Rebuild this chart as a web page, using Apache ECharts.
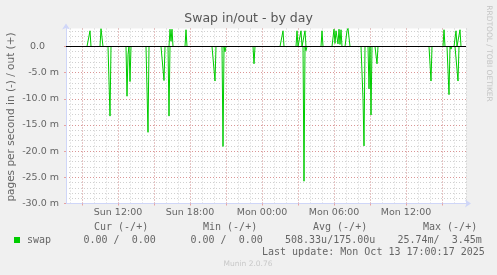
<!DOCTYPE html>
<html><head><meta charset="utf-8">
<script src="https://cdn.jsdelivr.net/npm/echarts@6/dist/echarts.min.js"></script>
<style>html,body{margin:0;padding:0;background:#f0f0f0}#c{width:497px;height:275px}</style>
</head><body><div id="c"></div>
<script>
// 5-minute slots from Sun 07:40 to Mon 17:00
const categories = [];
for (let m = 7 * 60 + 40; m <= 41 * 60; m += 5) {
  const d = m < 1440 ? 'Sun' : 'Mon';
  const mm = m % 1440;
  categories.push(d + ' ' + String(Math.floor(mm / 60)).padStart(2, '0') + ':' + String(mm % 60).padStart(2, '0'));
}

// swap out (+), pages/s in milli-units; slots not listed are 0
const swapOut = [
  ['Sun 09:40', 3.0], ['Sun 10:35', 3.4], ['Sun 10:40', 3.3],
  ['Sun 16:20', 3.3], ['Sun 16:25', 1.0], ['Sun 16:30', 3.3],
  ['Sun 17:40', 3.2],
  ['Mon 01:45', 3.0], ['Mon 02:55', 3.0], ['Mon 03:15', 3.0], ['Mon 03:35', 3.0],
  ['Mon 05:00', 3.0],
  ['Mon 06:00', 3.3], ['Mon 06:05', 0.6], ['Mon 06:10', 3.0], ['Mon 06:15', 3.2],
  ['Mon 06:20', 0.5], ['Mon 06:25', 3.3], ['Mon 06:30', 0.4], ['Mon 06:35', 3.2],
  ['Mon 07:05', 3.0], ['Mon 07:10', 3.45], ['Mon 07:15', 3.3],
  ['Mon 15:10', 3.2], ['Mon 16:10', 3.0], ['Mon 16:30', 3.2]
];
// swap in (-)
const swapIn = [
  ['Sun 11:20', -13.3], ['Sun 12:45', -9.5], ['Sun 12:50', -1.5], ['Sun 13:00', -6.7],
  ['Sun 14:30', -16.4], ['Sun 15:50', -6.5], ['Sun 16:15', -13.3],
  ['Sun 20:05', -6.6], ['Sun 20:45', -19.1], ['Sun 20:55', -1.0],
  ['Sun 23:20', -3.3],
  ['Mon 03:30', -25.74], ['Mon 03:40', -0.8],
  ['Mon 08:25', -10.0], ['Mon 08:30', -19.0], ['Mon 08:55', -8.1], ['Mon 09:05', -13.1],
  ['Mon 09:35', -3.3],
  ['Mon 14:05', -6.6], ['Mon 15:35', -9.2], ['Mon 15:45', -0.5], ['Mon 16:20', -6.6]
];

const yTicks = [-30, -25, -20, -15, -10, -5, 0];
const xTickLabels = ['Sun 12:00', 'Sun 18:00', 'Mon 00:00', 'Mon 06:00', 'Mon 12:00'];
const legendHeads = ['Cur (-/+)', 'Min (-/+)', 'Avg (-/+)', 'Max (-/+)'];
const legendValues = ['0.00 /  0.00', '0.00 /  0.00', '508.33u/175.00u', '25.74m/  3.45m'];
const lastUpdate = 'Last update: Mon Oct 13 17:00:17 2025';

const outMap = Object.fromEntries(swapOut);
const inMap = Object.fromEntries(swapIn);
const outData = categories.map(c => (c in outMap ? outMap[c] : 0));
const inData = categories.map(c => (c in inMap ? inMap[c] : 0));

const GRID = 'rgba(150,150,150,0.45)';
const MGRID = 'rgba(225,110,110,0.6)';
const AXIS = '#cfd6f8';
const FONT = '#666666';
const GREEN = '#00cc00';
const isHour = v => v.slice(-2) === '00';
const hourOf = v => parseInt(v.slice(4, 6), 10);

const headX = [94, 203, 313, 423];
const valX = [83.5, 190.5, 285, 397.5];
const mono = '10px "DejaVu Sans Mono"';

const graphics = [
  { type: 'text', x: 248.5, y: 18.8, style: { text: 'Swap in/out - by day', font: '12.5px "DejaVu Sans"', fill: '#555', align: 'center', verticalAlign: 'middle' } },
  { type: 'text', x: 11.5, y: 117, rotation: Math.PI / 2, style: { text: 'pages per second in (-) / out (+)', font: '10.5px "DejaVu Sans"', fill: FONT, align: 'center', verticalAlign: 'middle' } },
  { type: 'text', x: 488.5, y: 53.5, rotation: -Math.PI / 2, style: { text: 'RRDTOOL / TOBI OETIKER', font: '7.5px "DejaVu Sans"', fill: '#c4c4c4', align: 'center', verticalAlign: 'middle' } },
  { type: 'text', x: 248, y: 264, style: { text: 'Munin 2.0.76', font: '7.5px "DejaVu Sans"', fill: '#c8c8c8', align: 'center', verticalAlign: 'middle' } },
  { type: 'rect', shape: { x: 14, y: 237, width: 6, height: 6 }, style: { fill: GREEN } },
  { type: 'text', x: 27, y: 240, style: { text: 'swap', font: mono, fill: FONT, align: 'left', verticalAlign: 'middle' } },
  { type: 'text', x: 262, y: 252, style: { text: lastUpdate, font: mono, fill: FONT, align: 'left', verticalAlign: 'middle' } }
];
legendHeads.forEach((t, i) => graphics.push({ type: 'text', x: headX[i], y: 227.3, style: { text: t, font: mono, fill: FONT, align: 'left', verticalAlign: 'middle' } }));
legendValues.forEach((t, i) => graphics.push({ type: 'text', x: valX[i], y: 240, style: { text: t, font: mono, fill: FONT, align: 'left', verticalAlign: 'middle' } }));

const chart = echarts.init(document.getElementById('c'), null, { renderer: 'canvas' });
chart.setOption({
  animation: false,
  backgroundColor: '#f0f0f0',
  textStyle: { fontFamily: 'DejaVu Sans' },
  grid: { left: 66, top: 28.5, width: 400, height: 175, show: true, backgroundColor: '#ffffff', borderWidth: 0 },
  xAxis: [
    {
      type: 'category', data: categories, boundaryGap: false, position: 'bottom', z: 1,
      axisLine: { show: true, onZero: false, lineStyle: { color: AXIS, width: 1 }, symbol: ['none', 'arrow'], symbolSize: [6, 6], symbolOffset: [0, 5] },
      axisTick: { show: true, length: 2, interval: (i, v) => isHour(v) && hourOf(v) % 3 === 0, lineStyle: { color: MGRID } },
      axisLabel: { interval: (i, v) => xTickLabels.includes(v), color: FONT, fontSize: 9.5, fontFamily: 'DejaVu Sans', margin: 4 },
      splitLine: { show: true, interval: (i, v) => isHour(v) && hourOf(v) % 3 === 0, lineStyle: { color: MGRID, type: [1, 2], width: 1 } }
    },
    {
      type: 'category', data: categories, boundaryGap: false, position: 'bottom', z: 0,
      axisLine: { show: false, onZero: false }, axisTick: { show: false }, axisLabel: { show: false },
      splitLine: { show: true, interval: (i, v) => isHour(v), lineStyle: { color: GRID, type: [1, 2], width: 1 } }
    }
  ],
  yAxis: [
    {
      type: 'value', min: -30, max: 3.44, interval: 5, z: 1,
      axisLine: { show: true, onZero: false, lineStyle: { color: AXIS, width: 1 }, symbol: ['none', 'arrow'], symbolSize: [6, 6], symbolOffset: [0, 5] },
      axisTick: { show: true, length: 2, lineStyle: { color: MGRID } },
      axisLabel: {
        color: FONT, fontSize: 9.5, fontFamily: 'DejaVu Sans', margin: 7, showMaxLabel: false,
        formatter: v => (v === 0 ? '{z|0.0}' : (yTicks.includes(v) ? v.toFixed(1) + ' m' : '')),
        rich: { z: { color: FONT, fontSize: 9.5, fontFamily: 'DejaVu Sans', padding: [0, 14, 0, 0] } }
      },
      splitLine: { show: true, showMaxLine: false, showMinLine: false, lineStyle: { color: MGRID, type: [1, 2], width: 1 } }
    },
    {
      type: 'value', min: -30, max: 3.44, interval: 1, z: 0,
      axisLine: { show: false }, axisTick: { show: false }, axisLabel: { show: false },
      splitLine: { show: true, showMaxLine: false, showMinLine: false, lineStyle: { color: GRID, type: [1, 2], width: 1 } }
    }
  ],
  series: [
    { type: 'line', name: 'swap', data: inData, xAxisIndex: 0, yAxisIndex: 0, symbol: 'none', showSymbol: false, lineStyle: { color: GREEN, width: 1 }, itemStyle: { color: GREEN }, z: 3 },
    {
      type: 'line', name: 'swap', data: outData, xAxisIndex: 0, yAxisIndex: 0, symbol: 'none', showSymbol: false, lineStyle: { color: GREEN, width: 1 }, itemStyle: { color: GREEN }, z: 3,
      markLine: { silent: true, symbol: 'none', label: { show: false }, lineStyle: { color: '#000000', width: 1, type: 'solid' }, data: [{ yAxis: 0 }], z: 6 }
    }
  ],
  graphic: graphics
});
</script></body></html>
